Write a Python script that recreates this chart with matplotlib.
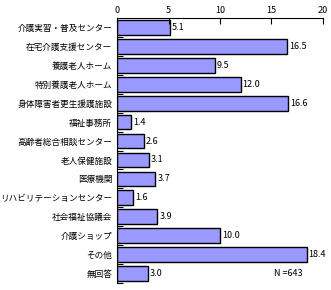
import matplotlib
matplotlib.use('Agg')
import matplotlib.pyplot as plt
import numpy as np

plt.rcParams['font.family'] = ['Noto Sans CJK JP', 'DejaVu Sans']

categories = ['介護実習・普及センター', '在宅介護支援センター', '養護老人ホーム', '特別養護老人ホーム',
              '身体障害者更生援護施設', '福祉事務所', '高齢者総合相談センター', '老人保健施設',
              '医療機関', 'リハビリテーションセンター', '社会福祉協議会', '介護ショップ',
              'その他', '無回答']
values = [5.1, 16.5, 9.5, 12.0, 16.6, 1.4, 2.6, 3.1, 3.7, 1.6, 3.9, 10.0, 18.4, 3.0]
xticks = [0, 5, 10, 15, 20]

fig = plt.figure(figsize=(3.31, 2.90), dpi=100)
ax = fig.add_axes([0.3535, 0.024, 0.6223, 0.914])

y = np.arange(len(categories))
ax.barh(y, values, height=0.78, color='#9999FF', edgecolor='black', linewidth=1.0)
for yi, v in zip(y, values):
    ax.text(v + 0.2, yi, '%.1f' % v, va='center', ha='left', fontsize=6.5)

ax.set_xlim(0, 20)
ax.set_ylim(len(categories) - 0.5, -0.5)
ax.xaxis.tick_top()
ax.set_xticks(xticks)
ax.set_xticklabels([str(t) for t in xticks], fontsize=6.5)
ax.tick_params(axis='x', direction='in', length=4, pad=2, width=0.8)

ax.set_yticks(y)
ax.set_yticklabels(categories, fontsize=6.2)
ax.tick_params(axis='y', length=0, pad=3.5)
ax.set_yticks(np.arange(len(categories)) + 0.5, minor=True)
ax.tick_params(axis='y', which='minor', direction='in', length=4, width=0.8)

for s in ['right', 'bottom']:
    ax.spines[s].set_visible(False)
ax.spines['top'].set_linewidth(0.8)
ax.spines['left'].set_linewidth(0.8)

ax.text(15.2, 13, 'N =643', va='center', ha='left', fontsize=6.5)

fig.savefig('out.png', dpi=100)
